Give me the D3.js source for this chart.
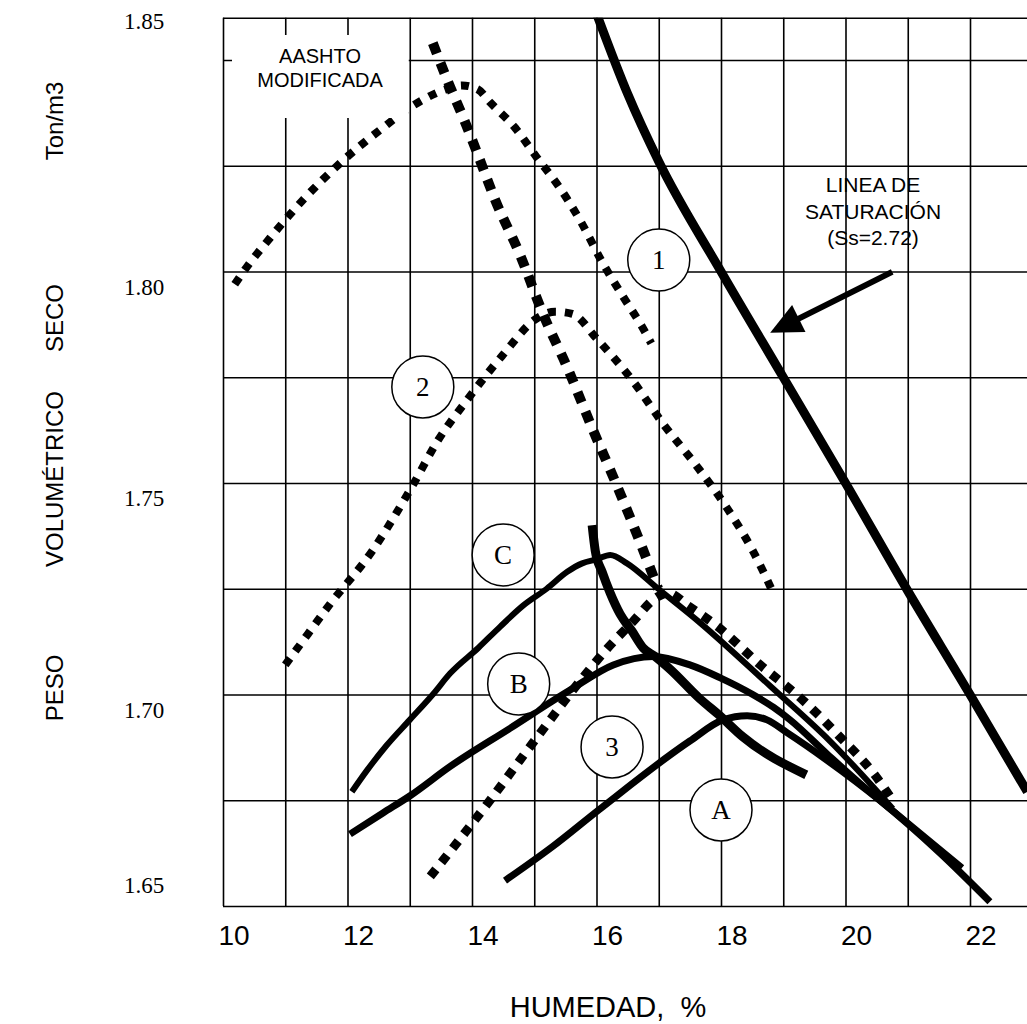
<!DOCTYPE html>
<html><head><meta charset="utf-8">
<script src="https://cdn.jsdelivr.net/npm/d3@7"></script>
<style>body{margin:0;background:#fff} svg{display:block}</style>
</head><body>
<script>
// ---- data (humedad %, peso volumétrico seco Ton/m3) ----
const humedadTicks = [10,12,14,16,18,20,22];
const pesoTicks = [1.65,1.70,1.75,1.80,1.85];

const saturacion = [[16.0,1.861],[16.5,1.842],[17.0,1.826],[18.0,1.800],[19.0,1.775],[20.0,1.750],[21.0,1.7245],[22.0,1.700],[22.92,1.677]];
const curva1 = [[10.19,1.797],[10.38,1.801],[10.76,1.808],[11.29,1.817],[11.91,1.826],[12.57,1.834],[13.03,1.839],[13.57,1.843],[13.84,1.844],[14.10,1.843],[14.29,1.840],[14.69,1.834],[15.04,1.827],[15.40,1.820],[15.74,1.812],[16.10,1.802],[16.43,1.794],[16.73,1.787],[16.88,1.783]];
const curva2 = [[11.00,1.707],[11.20,1.711],[11.70,1.721],[12.40,1.734],[13.03,1.749],[13.45,1.760],[13.94,1.770],[14.48,1.780],[15.05,1.789],[15.33,1.7905],[15.61,1.790],[16.01,1.784],[16.59,1.774],[17.07,1.764],[17.61,1.754],[18.10,1.744],[18.51,1.734],[18.84,1.724]];
const curva3 = [[13.33,1.657],[14.29,1.675],[15.00,1.689],[15.78,1.704],[16.18,1.711],[16.57,1.717],[16.97,1.723],[17.15,1.724],[17.47,1.721],[17.95,1.716],[18.63,1.707],[19.29,1.699],[19.91,1.690],[20.47,1.681],[20.71,1.676]];
const lineaTrazos = [[13.37,1.854],[13.61,1.845],[13.87,1.836],[14.11,1.827],[14.37,1.817],[14.77,1.804],[15.14,1.790],[15.54,1.777],[15.93,1.763],[16.31,1.750],[16.70,1.736],[16.99,1.725]];
const curvaA = [[14.53,1.656],[15.29,1.664],[16.06,1.673],[17.50,1.689],[18.03,1.694],[18.42,1.695],[18.74,1.694],[19.06,1.691],[19.70,1.6845],[20.55,1.675],[21.52,1.6625],[22.32,1.651]];
const curvaB = [[12.04,1.667],[12.57,1.672],[13.00,1.676],[13.65,1.683],[14.61,1.692],[15.57,1.701],[16.27,1.707],[16.91,1.709],[17.50,1.707],[17.98,1.704],[18.51,1.700],[18.84,1.697],[19.11,1.694],[19.70,1.686],[20.23,1.679],[20.76,1.6725],[21.87,1.659]];
const curvaC = [[12.07,1.677],[12.31,1.682],[12.63,1.688],[13.00,1.694],[13.37,1.700],[13.65,1.705],[14.10,1.711],[14.45,1.716],[14.82,1.721],[15.20,1.725],[15.53,1.729],[15.77,1.731],[16.01,1.732],[16.22,1.733],[16.49,1.731],[16.99,1.725],[17.66,1.717],[18.79,1.702],[19.75,1.689],[20.76,1.673]];
const lineaOptimos = [[15.93,1.740],[15.98,1.734],[16.09,1.729],[16.22,1.724],[16.38,1.719],[16.57,1.715],[16.75,1.711],[16.94,1.709],[17.18,1.706],[17.66,1.699],[17.98,1.695],[18.35,1.690],[19.37,1.681]];

const etiquetas = ["1","2","C","B","3","A"];
const etiquetasW = [17.00,13.21,14.50,14.75,16.25,18.00];
const etiquetasG = [1.8027,1.7727,1.7330,1.7025,1.6876,1.6727];
const flecha = [[20.75,1.7999],[18.79,1.7855]];

// ---- layout ----
const W = 1027, H = 1024;
const svg = d3.select("body").append("svg").attr("width", W).attr("height", H);
const x = d3.scaleLinear().domain([10, 23]).range([223, 1032.25]);
const y = d3.scaleLinear().domain([1.65, 1.86]).range([906, 17.7]);
const sans = "Liberation Sans, Arial, sans-serif";
const serif = "Liberation Serif, Times New Roman, serif";

svg.append("defs").append("clipPath").attr("id","plot").append("rect")
  .attr("x", x(10)).attr("y", y(1.86)).attr("width", x(23)-x(10)).attr("height", y(1.65)-y(1.86));

// grid
const gx = svg.append("g").attr("transform", `translate(0,${y(1.65)})`)
  .call(d3.axisBottom(x).tickValues(d3.range(10, 23)).tickSize(-(y(1.65)-y(1.86))).tickFormat(""));
const hGrid = d3.range(0, 9).map(k => 1.65 + k*0.025).concat([1.86]);
const gy = svg.append("g").attr("transform", `translate(${x(10)},0)`)
  .call(d3.axisLeft(y).tickValues(hGrid).tickSize(-(x(23)-x(10))).tickFormat(""));
[gx, gy].forEach(g => { g.select(".domain").remove(); g.selectAll("line").attr("stroke","#000").attr("stroke-width",1.6); });

// curves
const line = d3.line().x(d => x(d[0])).y(d => y(d[1])).curve(d3.curveMonotoneX);
const plot = svg.append("g").attr("clip-path","url(#plot)");
const series = [
  {d: saturacion, w: 9},
  {d: curvaC, w: 6},
  {d: curvaB, w: 7},
  {d: curvaA, w: 7},
  {d: lineaOptimos, w: 9},
  {d: curva1, w: 8, dash: "8 9"},
  {d: curva2, w: 8, dash: "8 9"},
  {d: curva3, w: 9, dash: "9 9"},
  {d: lineaTrazos, w: 10, dash: "11 10"}
];
series.forEach(s => {
  plot.append("path").attr("d", line(s.d)).attr("fill","none").attr("stroke","#000")
    .attr("stroke-width", s.w).attr("stroke-dasharray", s.dash || null).attr("stroke-linecap","butt");
});

// AASHTO box
svg.append("rect").attr("x", x(10)+9).attr("y", 35).attr("width", x(13)-x(10)-10).attr("height", 83).attr("fill","#fff");
svg.append("text").attr("x", 320).attr("y", 63).attr("text-anchor","middle")
  .attr("font-family", sans).attr("font-size", 20).text("AASHTO");
svg.append("text").attr("x", 320).attr("y", 87).attr("text-anchor","middle")
  .attr("font-family", sans).attr("font-size", 20).text("MODIFICADA");

// saturation label
["LINEA DE","SATURACIÓN","(Ss=2.72)"].forEach((t,i) => {
  svg.append("text").attr("x", 873).attr("y", 192 + i*26.5).attr("text-anchor","middle")
    .attr("font-family", sans).attr("font-size", 21).text(t);
});

// arrow
const p0 = [x(flecha[0][0]), y(flecha[0][1])], p1 = [x(flecha[1][0]), y(flecha[1][1])];
const dx = p1[0]-p0[0], dy = p1[1]-p0[1], L = Math.hypot(dx, dy), ux = dx/L, uy = dy/L;
const hl = 32, hw = 15;
const bx = p1[0]-ux*hl, by = p1[1]-uy*hl;
svg.append("line").attr("x1", p0[0]).attr("y1", p0[1]).attr("x2", bx+ux*4).attr("y2", by+uy*4)
  .attr("stroke","#000").attr("stroke-width", 6);
svg.append("polygon").attr("points", [[p1[0],p1[1]],[bx-uy*hw, by+ux*hw],[bx+uy*hw, by-ux*hw]].map(p=>p.join(",")).join(" ")).attr("fill","#000");

// circle labels
const lab = svg.append("g");
etiquetas.forEach((t,i) => {
  const cx = x(etiquetasW[i]), cy = y(etiquetasG[i]);
  lab.append("circle").attr("cx", cx).attr("cy", cy).attr("r", 31).attr("fill","#fff").attr("stroke","#000").attr("stroke-width",1.5);
  lab.append("text").attr("x", cx).attr("y", cy+9).attr("text-anchor","middle")
    .attr("font-family", serif).attr("font-size", 27).text(t);
});

// x tick labels
svg.append("g").selectAll("text").data(humedadTicks).join("text")
  .attr("x", d => x(d)+11).attr("y", 945).attr("text-anchor","middle")
  .attr("font-family", sans).attr("font-size", 28).text(d => d);

// y tick labels (end labels sit against the frame, the rest just below their grid line)
svg.append("g").selectAll("text").data(pesoTicks).join("text")
  .attr("x", 124)
  .attr("y", (d,i) => (i === 0 ? y(1.65) - 21 : i === pesoTicks.length-1 ? y(1.86) + 3 : y(d) + 15) + 8)
  .attr("font-family", serif).attr("font-size", 23).text(d => d.toFixed(2));

// axis titles
svg.append("text").attr("x", 608).attr("y", 1017).attr("text-anchor","middle")
  .attr("font-family", sans).attr("font-size", 29).attr("xml:space","preserve").text("HUMEDAD,  %");
[["PESO",688],["VOLUMÉTRICO",479],["SECO",318],["Ton/m3",121]].forEach(([t,cy]) => {
  svg.append("text").attr("transform", `translate(63,${cy}) rotate(-90)`).attr("text-anchor","middle")
    .attr("font-family", sans).attr("font-size", 24).text(t);
});
</script>
</body></html>
